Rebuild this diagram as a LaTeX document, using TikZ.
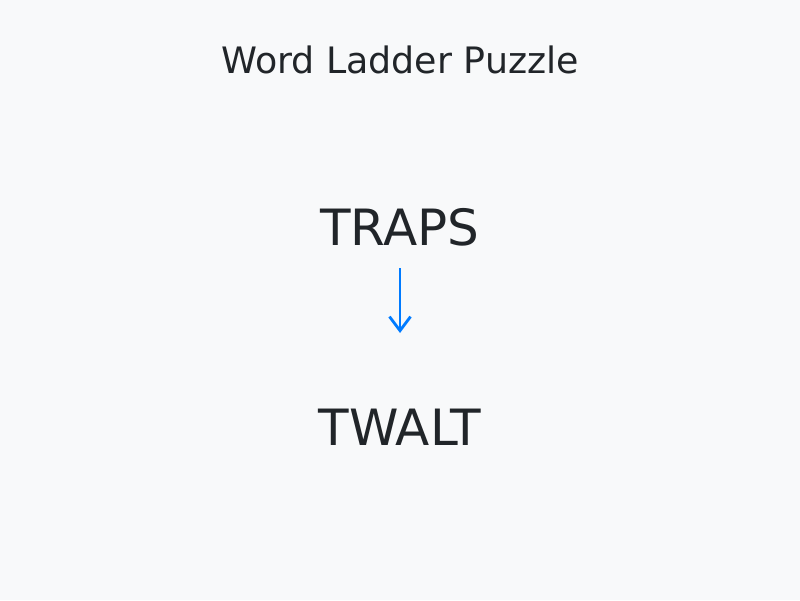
\documentclass[tikz,border=0pt]{standalone}
\usepackage{fontspec}
\setmainfont{DejaVu Sans}
\usetikzlibrary{arrows.meta}
\definecolor{bgcol}{HTML}{F8F9FA}
\definecolor{inkcol}{HTML}{212529}
\definecolor{arrowcol}{HTML}{007BFF}
\tikzset{
	word/.style={anchor=base, inner sep=0pt, text=inkcol, font=\fontsize{28.45}{34}\selectfont},
	ladderstep/.style={draw=arrowcol, line width=1.6pt, -{Straight Barb[length=8pt, width=12pt, line width=1.6pt]}}
}
\begin{document}
\begin{tikzpicture}
			%%%%% START %%%%%
			
			\fill[bgcol] (0, 0) rectangle (16, 12);
			\useasboundingbox (0, 0) rectangle (16, 12);
			
			\node[anchor=base, inner sep=0pt, text=inkcol, font=\fontsize{20.7}{25}\selectfont] (title) at (8, 10.53) {Word Ladder Puzzle};
			
			\node[word] (traps) at (8, 7.1) {TRAPS};
			\node[word] (twalt) at (8, 3.1) {TWALT};
			
			\coordinate (stepstart) at (8, 6.64);
			\coordinate (stepend) at (8, 5.34);
			\draw[ladderstep] (stepstart) -- (stepend);
			
			%%%%% END %%%%%
\end{tikzpicture}
\end{document}
